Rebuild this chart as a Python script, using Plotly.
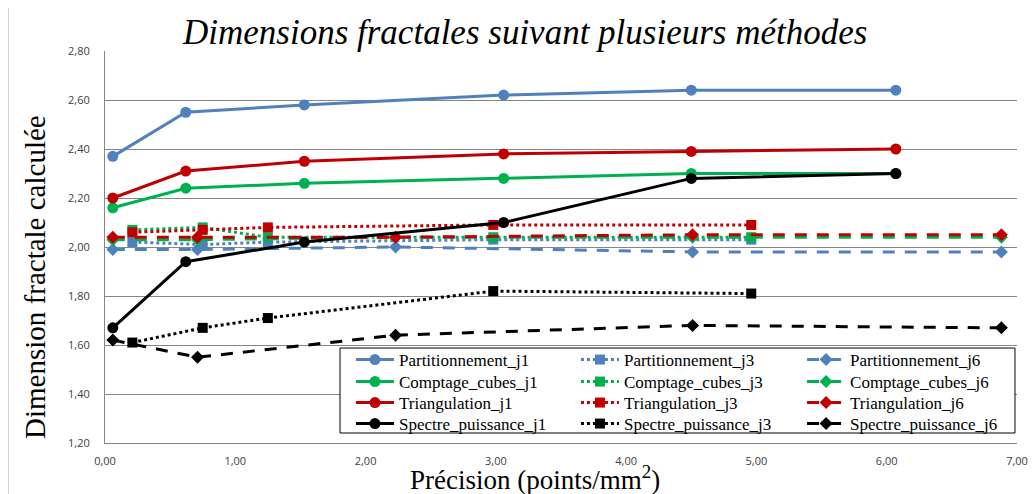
import plotly.graph_objects as go

# précision (points/mm2) pour chaque série de jours
x_j1 = [0.06, 0.62, 1.53, 3.06, 4.50, 6.07]
x_j3 = [0.21, 0.75, 1.25, 2.98, 4.96]
x_j6 = [0.06, 0.71, 2.23, 4.51, 6.88]

# dimensions fractales calculées
part_j1 = [2.37, 2.55, 2.58, 2.62, 2.64, 2.64]
part_j3 = [2.02, 2.01, 2.02, 2.03, 2.03]
part_j6 = [1.99, 1.99, 2.00, 1.98, 1.98]

cubes_j1 = [2.16, 2.24, 2.26, 2.28, 2.30, 2.30]
cubes_j3 = [2.07, 2.08, 2.04, 2.04, 2.04]
cubes_j6 = [2.03, 2.03, 2.04, 2.04, 2.04]

tri_j1 = [2.20, 2.31, 2.35, 2.38, 2.39, 2.40]
tri_j3 = [2.06, 2.07, 2.08, 2.09, 2.09]
tri_j6 = [2.04, 2.04, 2.04, 2.05, 2.05]

spec_j1 = [1.67, 1.94, 2.02, 2.10, 2.28, 2.30]
spec_j3 = [1.61, 1.67, 1.71, 1.82, 1.81]
spec_j6 = [1.62, 1.55, 1.64, 1.68, 1.67]

x_ticks = [0, 1, 2, 3, 4, 5, 6, 7]
y_ticks = [1.2, 1.4, 1.6, 1.8, 2.0, 2.2, 2.4, 2.6, 2.8]

methodes = [
    ("Partitionnement", "#4F81BD", part_j1, part_j3, part_j6),
    ("Comptage_cubes", "#00B050", cubes_j1, cubes_j3, cubes_j6),
    ("Triangulation", "#C00000", tri_j1, tri_j3, tri_j6),
    ("Spectre_puissance", "#000000", spec_j1, spec_j3, spec_j6),
]

# un petit legende par entree pour avoir la grille 3 colonnes x 4 lignes
col_x = [0.2697, 0.5164, 0.7643]
row_y = [0.2117, 0.1556, 0.1020, 0.0485]

serif = "Liberation Serif"

fig = go.Figure()
legends = {}
n = 0
for i, (nom, coul, y1, y3, y6) in enumerate(methodes):
    series = [
        ("_j1", x_j1, y1, dict(color=coul, width=3), "circle", 11),
        ("_j3", x_j3, y3, dict(color=coul, width=3, dash="3px,3px"), "square", 10),
        ("_j6", x_j6, y6, dict(color=coul, width=3, dash="12px,10px"), "diamond", 10),
    ]
    for j, (suf, xs, ys, ln, sym, sz) in enumerate(series):
        n += 1
        key = "legend" if n == 1 else "legend%d" % n
        fig.add_trace(go.Scatter(
            x=xs, y=ys, name=nom + suf, mode="lines+markers",
            line=ln, marker=dict(symbol=sym, size=sz, color=coul),
            legend=key))
        legends[key] = dict(
            x=col_x[j], y=row_y[i], xanchor="left", yanchor="middle",
            orientation="v", itemwidth=38, bgcolor="rgba(0,0,0,0)",
            borderwidth=0,
            font=dict(family=serif, size=17, color="black"))

tick_font = dict(family="Open Sans", size=11, color="#404040")

fig.update_layout(
    width=1028, height=486,
    margin=dict(l=97, r=19, t=43, b=51, autoexpand=False),
    font=dict(family=serif, size=16, color="black"),
    plot_bgcolor="white", paper_bgcolor="white",
    separators=", ",
    showlegend=True,
    xaxis=dict(range=[0, 7], tickvals=x_ticks, tickformat=".2f",
               showgrid=False, zeroline=False, showline=True,
               linecolor="#868686", linewidth=1, tickfont=tick_font,
               ticks="", ticklabelstandoff=8),
    yaxis=dict(range=[1.2, 2.8], tickvals=y_ticks, tickformat=".2f",
               showgrid=True, gridcolor="#868686", gridwidth=1,
               zeroline=False, showline=True, linecolor="#868686",
               linewidth=1, tickfont=tick_font, ticks="",
               ticklabelstandoff=12),
    shapes=[
        dict(type="rect", xref="paper", yref="paper",
             x0=-0.1064, y0=-0.16, x1=1.05, y1=1.1122,
             line=dict(color="#A0A0A0", width=1), layer="below"),
        dict(type="rect", xref="paper", yref="paper",
             x0=0.2577, y0=0.0255, x1=0.9978, y1=0.2423,
             fillcolor="white", line=dict(color="black", width=1),
             layer="above"),
    ],
    annotations=[
        dict(text="<i>Dimensions fractales suivant plusieurs méthodes</i>",
             xref="paper", yref="paper", x=0.4605, y=1.048,
             xanchor="center", yanchor="middle", showarrow=False,
             font=dict(family=serif, size=35, color="black")),
        dict(text="Dimension fractale calculée",
             xref="paper", yref="paper", x=-0.0768, y=0.4235,
             xanchor="center", yanchor="middle", showarrow=False,
             textangle=-90,
             font=dict(family=serif, size=29, color="black")),
        dict(text="Précision (points/mm<sup>2</sup>)",
             xref="paper", yref="paper", x=0.4715, y=-0.089,
             xanchor="center", yanchor="middle", showarrow=False,
             font=dict(family=serif, size=27, color="black")),
    ],
)
fig.update_layout(**legends)

fig.write_html("out.html")
